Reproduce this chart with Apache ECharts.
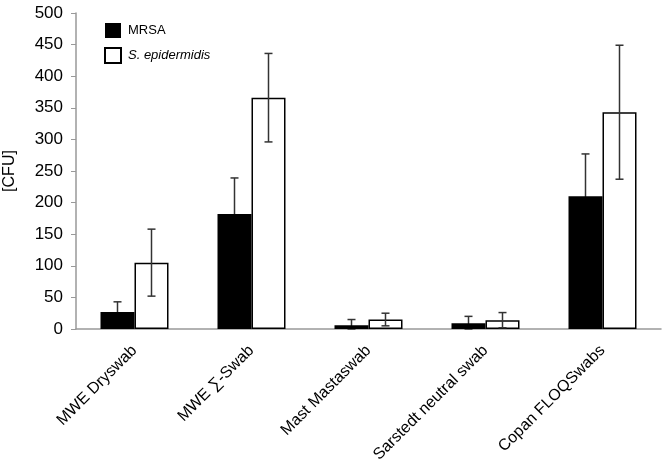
<!DOCTYPE html>
<html>
<head>
<meta charset="utf-8">
<script src="https://cdn.jsdelivr.net/npm/echarts@6/dist/echarts.min.js"></script>
<style>
  html, body { margin: 0; padding: 0; background: #fff; }
  #chart { width: 666px; height: 467px; }
</style>
</head>
<body>
<div id="chart"></div>
<script>
const categories = ['MWE Dryswab', 'MWE \u2211-Swab', 'Mast Mastaswab', 'Sarstedt neutral swab', 'Copan FLOQSwabs']
const mrsa = [27, 182, 6, 9, 210]
const mrsaErr = [16, 57, 9, 11, 67]
const sEpi = [105, 366, 15, 14, 343]
const sEpiErr = [53, 70, 10, 12, 106]

const FONT = '"Liberation Sans", Arial, sans-serif'
const BAR_W = 34

const chart = echarts.init(document.getElementById('chart'))

// error bars drawn as custom series, shifted to sit on the matching bar
function errorSeries(name, values, errors, shift, z) {
  return {
    name: name + ' err',
    type: 'custom',
    z: z,
    silent: true,
    data: values.map((v, i) => [i, Math.max(0, v - errors[i]), v + errors[i]]),
    renderItem: (params, api) => {
      const lo = api.coord([api.value(0), api.value(1)])
      const hi = api.coord([api.value(0), api.value(2)])
      const x = lo[0] + shift
      const cap = 4
      const style = { stroke: '#333', lineWidth: 1.5 }
      return {
        type: 'group',
        children: [
          { type: 'line', shape: { x1: x, y1: lo[1], x2: x, y2: hi[1] }, style },
          { type: 'line', shape: { x1: x - cap, y1: hi[1], x2: x + cap, y2: hi[1] }, style },
          { type: 'line', shape: { x1: x - cap, y1: lo[1], x2: x + cap, y2: lo[1] }, style },
        ],
      }
    },
  }
}

chart.setOption({
  animation: false,
  textStyle: { fontFamily: FONT },
  grid: { left: 76, right: 5, top: 13, bottom: 138, containLabel: false, outerBoundsMode: 'none' },
  legend: {
    orient: 'vertical',
    left: 99,
    top: 18,
    icon: 'rect',
    itemWidth: 16,
    itemHeight: 15,
    itemGap: 9,
    data: ['MRSA', 'S. epidermidis'],
    formatter: (n) => (n === 'MRSA' ? '{n|' + n + '}' : '{i|' + n + '}'),
    textStyle: {
      rich: {
        n: { fontSize: 13, color: '#000', fontFamily: FONT, padding: [0, 0, 0, 2] },
        i: { fontSize: 13, color: '#000', fontFamily: FONT, fontStyle: 'italic', padding: [0, 0, 0, 2] },
      },
    },
  },
  xAxis: {
    type: 'category',
    data: categories,
    axisTick: { show: false },
    axisLine: { lineStyle: { color: '#999', width: 1.5 } },
    axisLabel: { rotate: 45, interval: 0, fontSize: 16, color: '#000', margin: 19, fontFamily: FONT },
  },
  yAxis: {
    type: 'value',
    min: 0,
    max: 500,
    interval: 50,
    name: '[CFU]',
    nameLocation: 'middle',
    nameGap: 58,
    nameTextStyle: { fontSize: 16, color: '#000', fontFamily: FONT },
    splitLine: { show: false },
    axisLine: { show: true, lineStyle: { color: '#999', width: 1.5 } },
    axisTick: { show: true, length: 5, lineStyle: { color: '#999' } },
    axisLabel: { fontSize: 17, color: '#000', margin: 13, fontFamily: FONT },
  },
  series: [
    {
      name: 'MRSA',
      type: 'bar',
      z: 2,
      data: mrsa,
      barWidth: BAR_W,
      barGap: '0%',
      itemStyle: { color: '#000' },
    },
    {
      name: 'S. epidermidis',
      type: 'bar',
      z: 2,
      data: sEpi,
      barWidth: BAR_W,
      itemStyle: { color: '#fff', borderColor: '#000', borderWidth: 1.5 },
    },
    errorSeries('MRSA', mrsa, mrsaErr, -BAR_W / 2, 1),
    errorSeries('S. epidermidis', sEpi, sEpiErr, BAR_W / 2, 10),
  ],
})
</script>
</body>
</html>
